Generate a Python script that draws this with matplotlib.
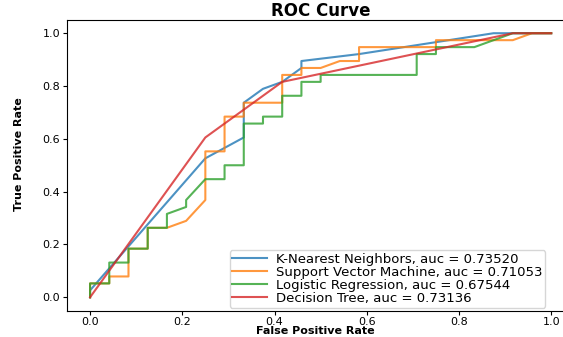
import matplotlib
matplotlib.use('Agg')
import matplotlib.pyplot as plt
import numpy as np

# ROC points, in counts (24 negatives, 38 positives)
n_neg = 24
n_pos = 38

knn_fp = [0, 0, 6, 8, 8, 9, 10, 11, 11, 14, 21, 24]
knn_tp = [0, 1, 20, 23, 28, 30, 31, 33, 34, 35, 38, 38]

svm_fp = [0, 0, 1, 1, 2, 2, 3, 3, 4, 5, 6, 6, 7, 7, 8, 8, 10, 10, 11, 11, 12, 13, 14, 14, 18, 18, 22, 23, 24]
svm_tp = [0, 2, 2, 3, 3, 7, 7, 10, 10, 11, 14, 21, 21, 26, 26, 28, 28, 32, 32, 33, 33, 34, 34, 36, 36, 37, 37, 38, 38]

lr_fp = [0, 0, 1, 1, 2, 2, 3, 3, 4, 4, 5, 5, 6, 7, 7, 8, 8, 9, 9, 10, 10, 11, 11, 12, 12, 17, 17, 18, 18, 20, 22, 24]
lr_tp = [0, 2, 2, 5, 5, 7, 7, 10, 10, 12, 13, 14, 17, 17, 19, 19, 25, 25, 26, 26, 29, 29, 31, 31, 32, 32, 35, 35, 36, 36, 38, 38]

dt_fp = [0, 6, 10, 22, 24]
dt_tp = [0, 23, 31, 38, 38]

models = ['K-Nearest Neighbors', 'Support Vector Machine', 'Logistic Regression', 'Decision Tree']
aucs = [0.73520, 0.71053, 0.67544, 0.73136]

curves = [(knn_fp, knn_tp), (svm_fp, svm_tp), (lr_fp, lr_tp), (dt_fp, dt_tp)]

fig = plt.figure(figsize=(5.63, 3.37), dpi=100)
ax = fig.add_axes([0.119, 0.0786, 0.901, 0.862])

for (fp, tp), name, auc in zip(curves, models, aucs):
    fpr = np.array(fp) / n_neg
    tpr = np.array(tp) / n_pos
    ax.plot(fpr, tpr, lw=1.5, alpha=0.8, label=f'{name}, auc = {auc:.5f}')

ax.set_xticks([0, 0.2, 0.4, 0.6, 0.8, 1.0])
ax.set_yticks([0, 0.2, 0.4, 0.6, 0.8, 1.0])
ax.tick_params(labelsize=8, length=3, pad=2)
ax.set_title('ROC Curve', fontsize=12, fontweight='bold', pad=2)
ax.set_xlabel('False Positive Rate', fontsize=8, fontweight='bold')
ax.xaxis.set_label_coords(0.49, -0.055, transform=ax.transAxes)
ax.xaxis.label.set_verticalalignment('top')
ax.set_ylabel('True Positive Rate', fontsize=8, fontweight='bold')
ax.yaxis.set_label_coords(-0.085, 0.54)
ax.legend(loc='lower left', bbox_to_anchor=(0.321, 0.01), borderaxespad=0,
          fontsize=9.5, labelspacing=0.0, handlelength=2.6,
          handletextpad=0.7, borderpad=0.2)

plt.savefig('out.png', dpi=100)
plt.close()
